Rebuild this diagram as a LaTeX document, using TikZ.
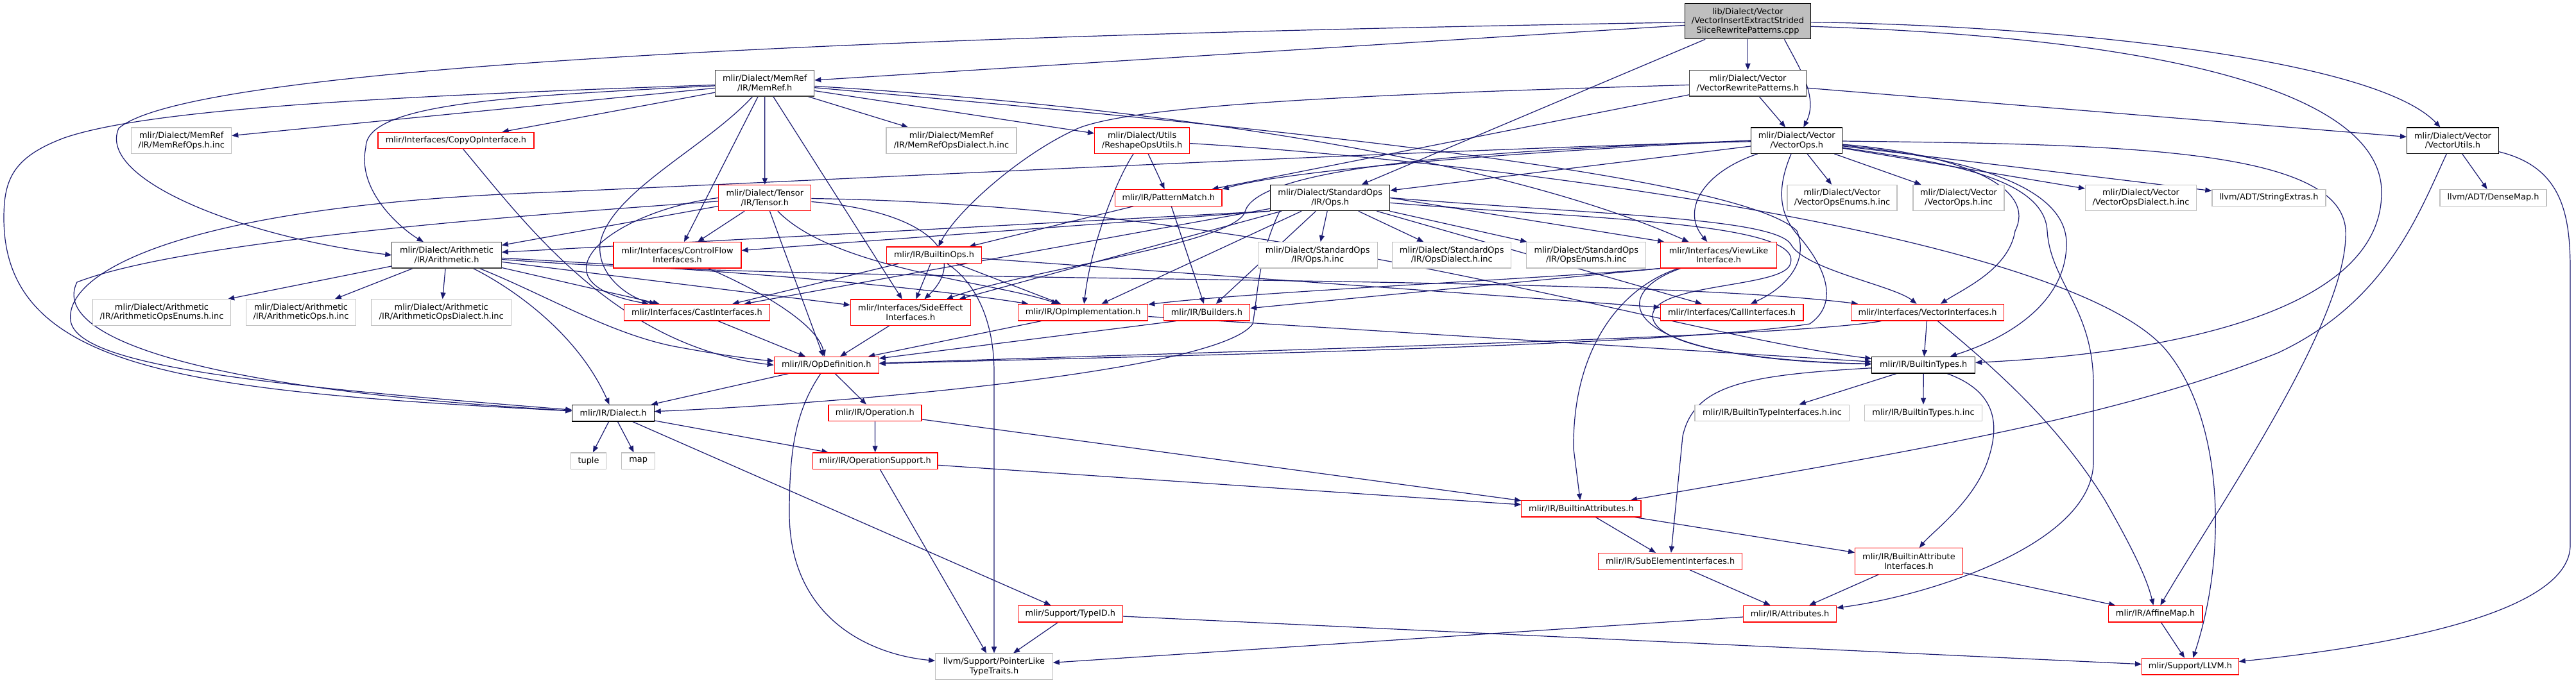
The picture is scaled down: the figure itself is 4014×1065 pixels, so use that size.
\documentclass[tikz,border=0pt]{standalone}
\usepackage{fontspec}
\setmainfont{DejaVu Sans}
\usetikzlibrary{arrows.meta}
\definecolor{edgecol}{HTML}{191970}
\definecolor{docdark}{HTML}{404040}
\definecolor{undoc}{HTML}{BFBFBF}
\definecolor{trunc}{HTML}{FF0000}
\definecolor{rootfill}{HTML}{BFBFBF}
\pgfdeclarelayer{bglayer}
\pgfdeclarelayer{edgelayer}
\pgfsetlayers{bglayer,edgelayer,main}
\newcommand{\gfont}{\fontsize{12.9pt}{14.7pt}\selectfont}
\begin{document}
\begin{tikzpicture}[x=1pt,y=-1pt,
 nb/.style={draw, inner sep=0pt, align=center, font=\gfont, line width=1.2pt, fill=white, text=black},
 docA/.style={nb, draw=docdark},
 docB/.style={nb, draw=black},
 trn/.style={nb, draw=trunc},
 und/.style={nb, draw=undoc},
 rootn/.style={nb, draw=black, fill=rootfill},
 hone/.style={minimum height=25.6pt},
 htwo/.style={minimum height=40.3pt},
 hthree/.style={minimum height=55pt},
 arr/.style={draw=edgecol, line width=1.2pt, -{Triangle[length=10pt,width=8pt]}},
]
\begin{pgfonlayer}{bglayer}
\fill[white] (0,0) rectangle (4014,1065);
\end{pgfonlayer}
\useasboundingbox (0,0) rectangle (4014,1065);

% ---------- nodes ----------
\node[rootn,hthree,minimum width=196pt] (R) at (2723.5,33.2) {lib/Dialect/Vector\\/VectorInsertExtractStrided\\SliceRewritePatterns.cpp};
\node[docA,htwo,minimum width=154pt] (MR) at (1191.7,129.8) {mlir/Dialect/MemRef\\/IR/MemRef.h};
\node[docA,htwo,minimum width=182pt] (VRP) at (2723.5,129.8) {mlir/Dialect/Vector\\/VectorRewritePatterns.h};
\node[docB,htwo,minimum width=142pt] (VO) at (2799.7,219.2) {mlir/Dialect/Vector\\/VectorOps.h};
\node[docB,htwo,minimum width=143pt] (VU) at (3822,219.2) {mlir/Dialect/Vector\\/VectorUtils.h};
\node[und,htwo,minimum width=156pt] (MRinc) at (282.7,219.2) {mlir/Dialect/MemRef\\/IR/MemRefOps.h.inc};
\node[trn,hone,minimum width=243pt] (CO) at (710.4,219.0) {mlir/Interfaces/CopyOpInterface.h};
\node[und,htwo,minimum width=203pt] (MRD) at (1482.5,219.2) {mlir/Dialect/MemRef\\/IR/MemRefOpsDialect.h.inc};
\node[trn,htwo,minimum width=148pt] (RU) at (1779.6,219.2) {mlir/Dialect/Utils\\/ReshapeOpsUtils.h};
\node[trn,htwo,minimum width=144pt] (TS) at (1191.8,308.5) {mlir/Dialect/Tensor\\/IR/Tensor.h};
\node[trn,hone,minimum width=166.5pt] (PM) at (1820.8,308.3) {mlir/IR/PatternMatch.h};
\node[docB,htwo,minimum width=186pt] (SO) at (2072.7,308.5) {mlir/Dialect/StandardOps\\/IR/Ops.h};
\node[und,htwo,minimum width=171pt] (VOE) at (2870.5,308.5) {mlir/Dialect/Vector\\/VectorOpsEnums.h.inc};
\node[und,htwo,minimum width=142pt] (VOinc) at (3052,308.5) {mlir/Dialect/Vector\\/VectorOps.h.inc};
\node[und,htwo,minimum width=173pt] (VOD) at (3336,308.5) {mlir/Dialect/Vector\\/VectorOpsDialect.h.inc};
\node[und,hone,minimum width=177pt] (SX) at (3535.4,308.3) {llvm/ADT/StringExtras.h};
\node[und,hone,minimum width=166pt] (DM) at (3885,308.3) {llvm/ADT/DenseMap.h};
\node[docA,htwo,minimum width=170.4pt] (AR) at (696,397.8) {mlir/Dialect/Arithmetic\\/IR/Arithmetic.h};
\node[trn,htwo,minimum width=199pt] (CF) at (1055.5,397.8) {mlir/Interfaces/ControlFlow\\Interfaces.h};
\node[trn,hone,minimum width=148pt] (BO) at (1455.5,397.8) {mlir/IR/BuiltinOps.h};
\node[und,htwo,minimum width=186pt] (SOinc) at (2053.2,397.8) {mlir/Dialect/StandardOps\\/IR/Ops.h.inc};
\node[und,htwo,minimum width=185pt] (SOD) at (2262.2,397.8) {mlir/Dialect/StandardOps\\/IR/OpsDialect.h.inc};
\node[und,htwo,minimum width=186pt] (SOE) at (2471.8,397.8) {mlir/Dialect/StandardOps\\/IR/OpsEnums.h.inc};
\node[trn,htwo,minimum width=180.5pt] (VL) at (2678,397.8) {mlir/Interfaces/ViewLike\\Interface.h};
\node[und,htwo,minimum width=214.5pt] (AREn) at (252,487) {mlir/Dialect/Arithmetic\\/IR/ArithmeticOpsEnums.h.inc};
\node[und,htwo,minimum width=171pt] (ARinc) at (469,487) {mlir/Dialect/Arithmetic\\/IR/ArithmeticOps.h.inc};
\node[und,htwo,minimum width=217.7pt] (ARD) at (687.7,487) {mlir/Dialect/Arithmetic\\/IR/ArithmeticOpsDialect.h.inc};
\node[trn,hone,minimum width=227pt] (CI) at (1086,487.2) {mlir/Interfaces/CastInterfaces.h};
\node[trn,htwo,minimum width=187pt] (SE) at (1418.8,487.2) {mlir/Interfaces/SideEffect\\Interfaces.h};
\node[trn,hone,minimum width=202pt] (OI) at (1687.7,487.2) {mlir/IR/OpImplementation.h};
\node[trn,hone,minimum width=134.4pt] (BD) at (1880.4,487.2) {mlir/IR/Builders.h};
\node[trn,hone,minimum width=222.8pt] (CA) at (2698.6,487.2) {mlir/Interfaces/CallInterfaces.h};
\node[trn,hone,minimum width=238.7pt] (VI) at (3003.5,487.2) {mlir/Interfaces/VectorInterfaces.h};
\node[trn,hone,minimum width=163pt] (OD) at (1287.8,569.2) {mlir/IR/OpDefinition.h};
\node[docB,hone,minimum width=160.7pt] (BT) at (2997.2,569.2) {mlir/IR/BuiltinTypes.h};
\node[docB,hone,minimum width=127.3pt] (DI) at (955.5,644.2) {mlir/IR/Dialect.h};
\node[trn,hone,minimum width=145pt] (OP) at (1363.4,644) {mlir/IR/Operation.h};
\node[und,hone,minimum width=240.7pt] (BTI) at (2761.4,644) {mlir/IR/BuiltinTypeInterfaces.h.inc};
\node[und,hone,minimum width=183pt] (BTinc) at (2997,644) {mlir/IR/BuiltinTypes.h.inc};
\node[und,hone,minimum width=55pt] (tuple) at (917,718.7) {tuple};
\node[und,hone,minimum width=51.7pt] (map) at (994.6,718.7) {map};
\node[trn,hone,minimum width=194.6pt] (OS) at (1363.7,718.7) {mlir/IR/OperationSupport.h};
\node[trn,hone,minimum width=186.3pt] (BA) at (2463.9,793.2) {mlir/IR/BuiltinAttributes.h};
\node[trn,hone,minimum width=224pt] (SEI) at (2602.6,875.3) {mlir/IR/SubElementInterfaces.h};
\node[trn,htwo,minimum width=167.6pt] (BAI) at (2974.4,875) {mlir/IR/BuiltinAttribute\\Interfaces.h};
\node[trn,hone,minimum width=162.6pt] (TID) at (1667.8,957.2) {mlir/Support/TypeID.h};
\node[trn,hone,minimum width=145.3pt] (ATT) at (2789,957.2) {mlir/IR/Attributes.h};
\node[trn,hone,minimum width=146.8pt] (AFM) at (3358.6,957.2) {mlir/IR/AffineMap.h};
\node[und,htwo,minimum width=182.5pt] (PLT) at (1549,1039.2) {llvm/Support/PointerLike\\TypeTraits.h};
\node[trn,hone,minimum width=150.6pt] (LLVM) at (3412.9,1039.2) {mlir/Support/LLVM.h};

% ---------- edges ----------
\begin{pgfonlayer}{edgelayer}
% root
\draw[arr] (R) -- (MR);
\draw[arr] (R) .. controls (1400,55) and (300,100) .. (185,200) .. controls (150,280) and (380,370) .. (AR.west);
\draw[arr] (R) -- (SO);
\draw[arr] (R) -- (VRP);
\draw[arr] ([xshift=57pt]R.south) .. controls (2800,100) and (2835,150) .. (VO);
\draw[arr] (R) .. controls (3200,40) and (3700,90) .. (VU);
\draw[arr] ([yshift=-8pt]R.east) .. controls (3400,60) and (3711,150) .. (3711,300) .. controls (3711,480) and (3400,550) .. (BT);
% VectorRewritePatterns
\draw[arr] (VRP) -- (VO);
\draw[arr] (VRP) -- (VU);
\draw[arr] (VRP) .. controls (2200,145) and (1780,160) .. (1680,200) .. controls (1590,240) and (1490,330) .. (BO);
\draw[arr] (VRP) -- (PM);
% VectorUtils
\draw[arr] (VU) -- (DM);
\draw[arr] (VU) .. controls (3770,330) and (3720,470) .. (3550,550) .. controls (3300,650) and (3000,700) .. (BA);
\draw[arr] (VU) .. controls (3990,260) and (4005,330) .. (4005,420) -- (4005,850) .. controls (4005,960) and (3700,1010) .. (LLVM);
% MemRef
\draw[arr] (MR) -- (MRinc);
\draw[arr] (MR) -- (CO);
\draw[arr] (MR) -- (MRD);
\draw[arr] (MR) -- (RU);
\draw[arr] (MR) -- (TS);
\draw[arr] (MR) .. controls (800,150) and (570,160) .. (570,230) .. controls (555,300) and (630,360) .. (AR);
\draw[arr] (MR) .. controls (600,150) and (230,170) .. (100,215) .. controls (20,245) and (6,280) .. (6,340) .. controls (6,580) and (300,610) .. (DI);
\draw[arr] (MR) -- (CF);
\draw[arr] (MR) .. controls (1100,230) and (950,300) .. (935,380) .. controls (930,430) and (980,465) .. (CI);
\draw[arr] (MR) -- (SE);
\draw[arr] (MR) .. controls (1700,160) and (2300,230) .. (VL);
\draw[arr] (MR) .. controls (1700,175) and (2700,260) .. (2800,360) .. controls (2820,410) and (2780,450) .. (CA);
% ReshapeOpsUtils
\draw[arr] (RU) -- (PM);
\draw[arr] (RU) .. controls (1740,280) and (1700,380) .. (OI);
\draw[arr] (RU) .. controls (2300,250) and (3200,360) .. (3370,540) .. controls (3460,640) and (3475,850) .. (LLVM);
% VectorOps
\draw[arr] (VO) -- (SO);
\draw[arr] (VO) .. controls (2300,230) and (1300,280) .. (850,300) .. controls (300,320) and (100,420) .. (110,500) .. controls (120,570) and (400,600) .. (DI);
\draw[arr] (VO) -- (VOE);
\draw[arr] (VO) -- (VOinc);
\draw[arr] (VO) -- (VOD);
\draw[arr] (VO) -- (SX);
\draw[arr] (VO) .. controls (3300,225) and (3650,230) .. (3655,360) .. controls (3660,500) and (3450,800) .. (AFM);
\draw[arr] (VO) .. controls (3050,240) and (3175,290) .. (3140,360) .. controls (3130,420) and (3060,450) .. (VI);
\draw[arr] (VO) .. controls (3100,250) and (3220,300) .. (3220,380) .. controls (3220,460) and (3150,520) .. (BT);
\draw[arr] (VO) .. controls (2650,270) and (2620,330) .. (VL);
\draw[arr] (VO) .. controls (2770,290) and (2770,330) .. (2800,365) .. controls (2840,410) and (2870,470) .. (2820,505) .. controls (2600,540) and (1800,555) .. (OD);
\draw[arr] (VO.west) .. controls (2300,240) and (2000,268) .. (PM.north east);
\draw[arr] (VO.west) .. controls (2300,235) and (1960,260) .. (1940,330) .. controls (1925,380) and (1600,420) .. (SE);
\draw[arr] (VO) .. controls (3000,250) and (3185,270) .. (3190,360) .. controls (3195,440) and (3262,480) .. (3262,600) -- (3262,720) .. controls (3262,850) and (3000,930) .. (ATT);
% StandardOps
\draw[arr] (SO.south west) -- (AR);
\draw[arr] (SO) -- (BD);
\draw[arr] (SO) .. controls (2450,340) and (2810,345) .. (2790,410) .. controls (2785,450) and (2570,440) .. (2575,495) .. controls (2585,550) and (2800,565) .. (BT);
\draw[arr] ([xshift=15pt]SO.south west) .. controls (1960,400) and (1960,460) .. (1952,505) .. controls (1900,580) and (1300,630) .. (DI);
\draw[arr] (SO) -- (OI);
\draw[arr] (SO) -- (CA);
\draw[arr] (SO) -- (CI);
\draw[arr] (SO.south west) -- (CF);
\draw[arr] (SO) -- (SE);
\draw[arr] (SO.east) .. controls (2500,335) and (2760,340) .. (2790,380) .. controls (2810,420) and (2950,445) .. (VI);
\draw[arr] (SO.east) -- ([xshift=6pt]VL.north west);
\draw[arr] (SO) -- (SOinc);
\draw[arr] (SO) -- (SOD);
\draw[arr] (SO) -- (SOE);
% Arithmetic
\draw[arr] (AR) -- (AREn);
\draw[arr] (AR) -- (ARinc);
\draw[arr] (AR) -- (ARD);
\draw[arr] (AR) .. controls (800,450) and (900,520) .. (DI);
\draw[arr] (AR) .. controls (850,460) and (950,520) .. (1050,540) .. controls (1120,553) and (1170,560) .. (OD);
\draw[arr] (AR) .. controls (1200,425) and (1450,450) .. (OI);
\draw[arr] (AR) -- (CI);
\draw[arr] (AR) -- (SE);
\draw[arr] (AR) .. controls (1300,445) and (2500,425) .. (VI);
% Tensor
\draw[arr] (TS) -- (AR);
\draw[arr] (TS) .. controls (900,330) and (300,370) .. (120,440) .. controls (80,520) and (280,605) .. (DI);
\draw[arr] (TS.west) .. controls (950,330) and (820,440) .. (CI);
\draw[arr] (TS) -- (CF);
\draw[arr] (TS) -- (OD);
\draw[arr] (TS) .. controls (1300,420) and (1550,440) .. (OI);
\draw[arr] (TS) .. controls (1450,330) and (1510,400) .. (SE);
\draw[arr] (TS) .. controls (2000,320) and (2600,520) .. (BT);
% PatternMatch
\draw[arr] (PM) -- (BO);
\draw[arr] (PM) -- (BD);
% BuiltinOps
\draw[arr] (BO) -- (CI);
\draw[arr] (BO) -- (SE);
\draw[arr] (BO) -- (OI);
\draw[arr] (BO) .. controls (1520,440) and (1549,500) .. (1549,580) -- (PLT);
\draw[arr] (BO) -- (CA);
% interfaces to OpDefinition
\draw[arr] (CO) .. controls (820,350) and (960,540) .. (OD.west);
\draw[arr] (CF) .. controls (1200,460) and (1275,510) .. (OD);
\draw[arr] (CI) -- (OD);
\draw[arr] (SE) -- (OD);
\draw[arr] (OI) -- (OD);
\draw[arr] ([xshift=20pt]BD.south west) -- (OD);
\draw[arr] (OI) -- (BT);
% VectorInterfaces
\draw[arr] (VI) -- (BT);
\draw[arr] (VI) .. controls (3090,560) and (3200,650) .. (3280,780) .. controls (3320,850) and (3345,900) .. (AFM);
\draw[arr] (VI) .. controls (2800,525) and (2000,545) .. (OD);
% ViewLike
\draw[arr] (VL.south west) -- (BD);
\draw[arr] (VL.south west) .. controls (2400,435) and (1950,455) .. (OI);
\draw[arr] (VL) .. controls (2500,460) and (2520,560) .. (BT);
\draw[arr] (VL) .. controls (2520,450) and (2450,550) .. (2452,700) -- (BA);
% OpDefinition
\draw[arr] (OD) -- (DI);
\draw[arr] (OD) -- (OP);
\draw[arr] (OD) .. controls (1240,640) and (1230,700) .. (1230,800) .. controls (1230,960) and (1350,1020) .. (PLT);
% Dialect
\draw[arr] (DI) -- (tuple);
\draw[arr] (DI) -- (map);
\draw[arr] (DI) -- (OS);
\draw[arr] (DI) -- (TID);
% Operation / support
\draw[arr] (OP) -- (OS);
\draw[arr] (OP) -- (BA);
\draw[arr] (OS) -- (PLT);
\draw[arr] (OS) -- (BA);
\draw[arr] (TID) -- (PLT);
\draw[arr] (TID) -- (LLVM);
% BuiltinTypes
\draw[arr] (BT) -- (BTI);
\draw[arr] (BT) -- (BTinc);
\draw[arr] (BT) .. controls (2720,585) and (2640,600) .. (2622,680) -- (SEI);
\draw[arr] (BT) .. controls (3110,610) and (3115,660) .. (3100,710) .. controls (3080,780) and (3010,830) .. (BAI);
% attributes
\draw[arr] (BA) -- (SEI);
\draw[arr] (BA) -- (BAI);
\draw[arr] (SEI) -- (ATT);
\draw[arr] (BAI) -- (ATT);
\draw[arr] (BAI) -- (AFM);
\draw[arr] (ATT) -- (PLT);
\draw[arr] (AFM) -- (LLVM);
\end{pgfonlayer}
\end{tikzpicture}
\end{document}
